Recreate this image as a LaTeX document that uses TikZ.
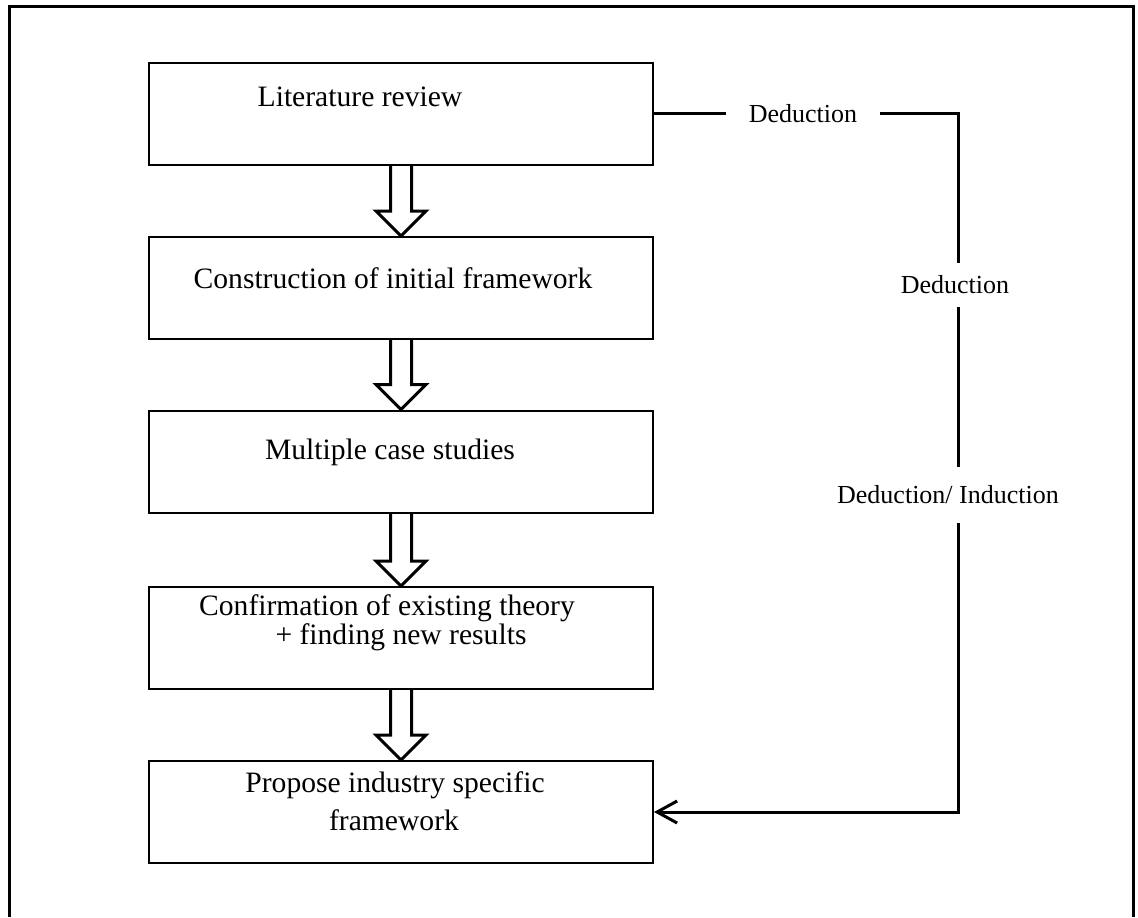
\documentclass[tikz,border=0pt]{standalone}
\usepackage{fontspec}
\setmainfont{Liberation Serif}
\usetikzlibrary{arrows.meta,calc}

\tikzset{
  stage/.style={draw, line width=1pt, minimum width=252pt, minimum height=51pt, inner sep=0pt},
  stagetext/.style={font=\fontsize{14.8}{18}\selectfont, inner sep=0pt},
  hollow/.style={draw, line width=1.5pt, line join=miter},
  link/.style={line width=1.5pt},
  linklabel/.style={font=\fontsize{13}{15}\selectfont, inner sep=0pt},
}

\newcommand{\stagearrow}[2]{%
  \draw[hollow] ($(#1.south)+(-10.5,0)$) -- ($(#2.north)+(-10.5,-25)$)
    -- ($(#2.north)+(-25,-25)$) -- (#2.north) -- ($(#2.north)+(25,-25)$)
    -- ($(#2.north)+(10.5,-25)$) -- ($(#1.south)+(10.5,0)$);}

\begin{document}
\begin{tikzpicture}[x=0.5pt, y=-0.5pt]
  \useasboundingbox (0,0) rectangle (1138,917);

  % outer frame
  \draw[line width=1.5pt] (9,917) -- (9,6) -- (1133,6) -- (1133,917);

  % stages
  \node[stage] (b1) at (401,113.5) {};
  \node[stage] (b2) at (401,288) {};
  \node[stage] (b3) at (401,461.5) {};
  \node[stage] (b4) at (401,638) {};
  \node[stage] (b5) at (401,812) {};

  \node[stagetext] (t1) at (360,97) {Literature review};
  \node[stagetext] (t2) at (393,278) {Construction of initial framework};
  \node[stagetext] (t3) at (390,452) {Multiple case studies};
  \node[stagetext] (t4a) at (387,608) {Confirmation of existing theory};
  \node[stagetext] (t4b) at (401,637) {+ finding new results};
  \node[stagetext] (t5a) at (395,785) {Propose industry specific};
  \node[stagetext] (t5b) at (394,820) {framework};

  % block arrows
  \stagearrow{b1}{b2}
  \stagearrow{b2}{b3}
  \stagearrow{b3}{b4}
  \stagearrow{b4}{b5}

  % feedback line
  \coordinate (c1) at (958,113.5);
  \node[linklabel, inner xsep=11pt] (d1) at (803,113.5) {Deduction};
  \node[linklabel, minimum height=21.5pt] (d2) at (955,285) {Deduction};
  \node[linklabel, minimum height=27.5pt] (d3) at (948,495) {Deduction/ Induction};

  \draw[link] (b1.east) -- (d1.west);
  \draw[link] (d1.east) -- (c1) -- (c1 |- d2.north);
  \draw[link] (c1 |- d2.south) -- (c1 |- d3.north);
  \draw[link, -{Straight Barb[length=10pt, width=11pt]}] (c1 |- d3.south) -- (c1 |- b5.east) -- (b5.east);
\end{tikzpicture}
\end{document}
